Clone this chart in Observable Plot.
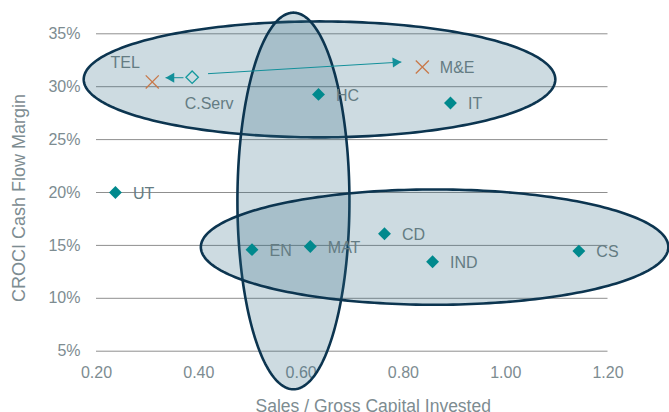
<!DOCTYPE html>
<html><head><meta charset="utf-8">
<script src="https://cdn.jsdelivr.net/npm/d3@7"></script>
<script src="https://cdn.jsdelivr.net/npm/@observablehq/plot@0.6"></script>
<style>html,body{margin:0;padding:0;background:#fff;}</style>
</head><body><div id="chart"></div>
<script>
// ---- data ----
const sectors        = ["UT", "TEL", "C.Serv", "HC", "IT", "M&E", "EN", "MAT", "CD", "IND", "CS"];
const salesToGCI     = [0.237, 0.309, 0.387, 0.634, 0.892, 0.837, 0.504, 0.618, 0.763, 0.857, 1.143];
const cashFlowMargin = [20.0, 30.45, 30.9, 29.27, 28.46, 31.86, 14.6, 14.9, 16.1, 13.46, 14.46];
const markerKind     = ["filled", "cross", "open", "filled", "filled", "cross", "filled", "filled", "filled", "filled", "filled"];

const xTicks = [0.2, 0.4, 0.6, 0.8, 1.0, 1.2];
const yTicks = [5, 10, 15, 20, 25, 30, 35];

// ellipses (data units): top cluster, vertical band, bottom cluster
const ellipseCx = [0.636, 0.585, 0.861];
const ellipseCy = [30.69, 19.2, 14.84];
const ellipseRx = [0.461, 0.1095, 0.457];
const ellipseRy = [5.48, 17.8, 5.45];

// arrows: start -> tip
const arrowX1 = [0.370, 0.418];
const arrowY1 = [30.85, 31.23];
const arrowX2 = [0.335, 0.796];
const arrowY2 = [30.85, 32.33];

// ---- build tables ----
const pts = sectors.map((s, i) => ({sector: s, x: salesToGCI[i], y: cashFlowMargin[i], kind: markerKind[i]}));
const ellPts = [];
ellipseCx.forEach((cx, k) => {
  const n = 240;
  for (let j = 0; j < n; j++) {
    const t = 2 * Math.PI * j / n;
    ellPts.push({id: k, x: cx + ellipseRx[k] * Math.cos(t), y: ellipseCy[k] + ellipseRy[k] * Math.sin(t)});
  }
});
const arrows = arrowX1.map((x1, i) => ({x1, y1: arrowY1[i], x2: arrowX2[i], y2: arrowY2[i]}));

const font = "Liberation Sans, Arial, Helvetica, sans-serif";
const labelColor = "#647c83";
const tickColor = "#7d8c91";

const regular = pts.filter(d => d.sector !== "TEL" && d.sector !== "C.Serv");

const chart = Plot.plot({
  width: 669, height: 412,
  marginTop: 33.3, marginBottom: 61.3, marginLeft: 96, marginRight: 61.5,
  style: {fontFamily: font, fontSize: "16px", background: "#fff", overflow: "visible"},
  x: {domain: [0.2, 1.2]},
  y: {domain: [5, 35]},
  marks: [
    Plot.gridY(yTicks, {stroke: "#8f8f8f", strokeOpacity: 1, strokeWidth: 1}),
    Plot.axisY(yTicks, {tickSize: 0, tickPadding: 16, fontSize: 16, fill: tickColor, label: null, tickFormat: d => d + "%"}),
    Plot.axisX(xTicks, {tickSize: 0, tickPadding: 15.5, fontSize: 16, fill: tickColor, label: null, tickFormat: d3.format(".2f")}),
    Plot.line(ellPts, {x: "x", y: "y", z: "id", curve: "linear-closed", fill: "#2f6982", fillOpacity: 0.24, stroke: "#0c3550", strokeWidth: 2.6}),
    // arrows
    Plot.link(arrows, {x1: "x1", y1: "y1", x2: "x2", y2: "y2", stroke: "#13909a", strokeWidth: 1}),
    Plot.dot(arrows.slice(0, 1), {x: "x2", y: "y2", symbol: "triangle", r: 3.7, rotate: -90, dx: 5.8, fill: "#13909a", stroke: "none"}),
    Plot.dot(arrows.slice(1, 2), {x: "x2", y: "y2", symbol: "triangle", r: 3.7, rotate: 86.5, dx: -5.8, dy: 0.35, fill: "#13909a", stroke: "none"}),
    // points
    Plot.dot(pts.filter(d => d.kind === "filled"), {x: "x", y: "y", symbol: "diamond2", r: 5.8, fill: "#00898d", stroke: "none"}),
    Plot.dot(pts.filter(d => d.kind === "open"), {x: "x", y: "y", symbol: "diamond2", r: 5.6, fill: "none", stroke: "#14999d", strokeWidth: 1.3}),
    Plot.dot(pts.filter(d => d.kind === "cross"), {x: "x", y: "y", symbol: "times", r: 6, stroke: "#c8794a", strokeWidth: 1.3}),
    // labels
    Plot.text(regular, {x: "x", y: "y", text: "sector", textAnchor: "start", dx: 17.5, dy: 1, fontSize: 16, fill: labelColor}),
    Plot.text(pts.filter(d => d.sector === "TEL"), {x: "x", y: "y", text: "sector", dx: -27, dy: -19, fontSize: 16, fill: labelColor}),
    Plot.text(pts.filter(d => d.sector === "C.Serv"), {x: "x", y: "y", text: "sector", dx: 17, dy: 27, fontSize: 16, fill: labelColor}),
    // axis titles
    Plot.text(["CROCI Cash Flow Margin"], {frameAnchor: "left", textAnchor: "middle", lineAnchor: "middle", rotate: -90, dx: -77.2, dy: 5.5, fontSize: 18, fill: tickColor}),
    Plot.text(["Sales / Gross Capital Invested"], {frameAnchor: "bottom", textAnchor: "middle", lineAnchor: "middle", dx: 21, dy: 55.2, fontSize: 17.5, fill: tickColor})
  ]
});
document.getElementById("chart").appendChild(chart);
</script>
</body></html>
